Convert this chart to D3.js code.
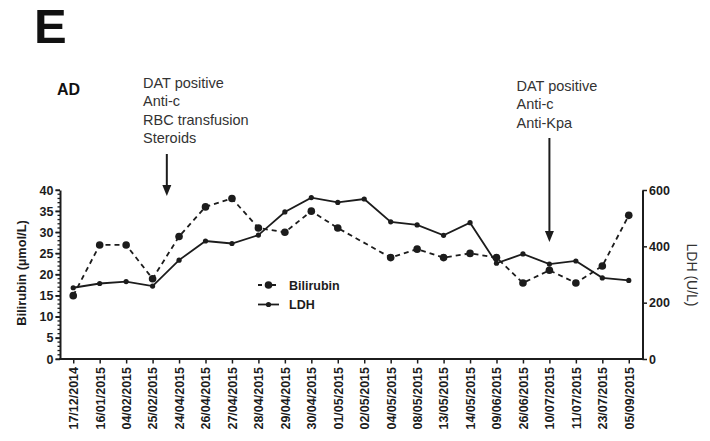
<!DOCTYPE html>
<html>
<head>
<meta charset="utf-8">
<script src="https://cdn.jsdelivr.net/npm/d3@7"></script>
<style>
  html, body { margin: 0; padding: 0; background: #fff; }
  svg { display: block; font-family: Arial, "Liberation Sans", Helvetica, sans-serif; }
</style>
</head>
<body>
<svg id="chart" width="710" height="441"></svg>
<script>
const categories = ["17/12/2014","16/01/2015","04/02/2015","25/02/2015","24/04/2015","26/04/2015","27/04/2015","28/04/2015","29/04/2015","30/04/2015","01/05/2015","02/05/2015","04/05/2015","08/05/2015","13/05/2015","14/05/2015","09/06/2015","26/06/2015","10/07/2015","11/07/2015","23/07/2015","05/09/2015"];
const bilirubin = [15,27,27,19,29,36,38,31,30,35,31,null,24,26,24,25,24,18,21,18,22,34];
const ldh = [253,268,275,259,351,419,410,440,522,573,556,568,487,476,439,484,340,373,337,348,288,279];
const leftTicks = [0,5,10,15,20,25,30,35,40];
const rightTicks = [0,200,400,600];
const annotation1 = ["DAT positive","Anti-c","RBC transfusion","Steroids"];
const annotation2 = ["DAT positive","Anti-c","Anti-Kpa"];

const ink = "#1c1c1c";
const svg = d3.select("#chart");

const x = d3.scalePoint().domain(categories).range([60, 642]).padding(0.5);
const yL = d3.scaleLinear().domain([0, 40]).range([359, 190]);
const yR = d3.scaleLinear().domain([0, 600]).range([359, 190]);

// Panel letter & subtitle
svg.append("text").attr("x", 34).attr("y", 43).attr("font-size", 49).attr("font-weight", "bold").attr("fill", "#111").text("E");
svg.append("text").attr("x", 57).attr("y", 95).attr("font-size", 16).attr("font-weight", "bold").attr("fill", "#111").text("AD");

// Left axis minor ticks
const minor = d3.range(0, 41, 1);
svg.append("g").selectAll("line").data(minor).join("line")
  .attr("x1", 60).attr("x2", d => d % 5 === 0 ? 55.5 : 57.5)
  .attr("y1", d => yL(d)).attr("y2", d => yL(d))
  .attr("stroke", ink).attr("stroke-width", 1.3);

// Left axis
const gL = svg.append("g").attr("transform", "translate(60,0)")
  .call(d3.axisLeft(yL).tickValues(leftTicks).tickSize(4.5).tickSizeOuter(0));
gL.select(".domain").attr("stroke", ink).attr("stroke-width", 2);
gL.selectAll(".tick line").attr("stroke", ink).attr("stroke-width", 1.5);
gL.selectAll(".tick text").attr("font-size", 12.5).attr("font-weight", "bold").attr("fill", ink)
  .attr("font-family", "Arial, 'Liberation Sans', sans-serif").attr("x", -6.5);

// Right axis
const gR = svg.append("g").attr("transform", "translate(642.5,0)")
  .call(d3.axisRight(yR).tickValues(rightTicks).tickSize(4.5).tickSizeOuter(0));
gR.select(".domain").attr("stroke", ink).attr("stroke-width", 2);
gR.selectAll(".tick line").attr("stroke", ink).attr("stroke-width", 1.5);
gR.selectAll(".tick text").attr("font-size", 12.5).attr("font-weight", "bold").attr("fill", ink)
  .attr("font-family", "Arial, 'Liberation Sans', sans-serif").attr("x", 6.5);

// Bottom axis
const gB = svg.append("g").attr("transform", "translate(0,359)")
  .call(d3.axisBottom(x).tickSize(4.5).tickSizeOuter(0));
gB.select(".domain").attr("stroke", ink).attr("stroke-width", 2).attr("d", "M59,0H643.5");
gB.selectAll(".tick line").attr("stroke", ink).attr("stroke-width", 1.5);
gB.selectAll(".tick text").attr("font-size", 12.5).attr("font-weight", "bold").attr("fill", ink)
  .attr("font-family", "Arial, 'Liberation Sans', sans-serif")
  .attr("text-anchor", "end").attr("transform", "translate(0,8) rotate(-90)")
  .attr("x", 0).attr("y", 0).attr("dy", "0.35em");

// Axis titles
svg.append("text").attr("transform", "translate(25.5,273) rotate(-90)")
  .attr("text-anchor", "middle").attr("font-size", 12.8).attr("font-weight", "bold").attr("fill", ink)
  .text("Bilirubin (µmol/L)");
svg.append("text").attr("transform", "translate(687,275) rotate(90)")
  .attr("text-anchor", "middle").attr("font-size", 14).attr("fill", "#333")
  .text("LDH (U/L)");

// Data lines
const bData = categories.map((c, i) => ({c, v: bilirubin[i]})).filter(d => d.v !== null);
const lData = categories.map((c, i) => ({c, v: ldh[i]}));

svg.append("path").datum(lData)
  .attr("d", d3.line().x(d => x(d.c)).y(d => yR(d.v)))
  .attr("fill", "none").attr("stroke", ink).attr("stroke-width", 1.8);
svg.append("g").selectAll("circle").data(lData).join("circle")
  .attr("cx", d => x(d.c)).attr("cy", d => yR(d.v)).attr("r", 2.6).attr("fill", ink);

svg.append("path").datum(bData)
  .attr("d", d3.line().x(d => x(d.c)).y(d => yL(d.v)))
  .attr("fill", "none").attr("stroke", ink).attr("stroke-width", 1.8).attr("stroke-dasharray", "5,4");
svg.append("g").selectAll("circle").data(bData).join("circle")
  .attr("cx", d => x(d.c)).attr("cy", d => yL(d.v)).attr("r", 3.8).attr("fill", ink);

// Legend
const lg = svg.append("g");
lg.append("line").attr("x1", 258).attr("x2", 279).attr("y1", 285).attr("y2", 285)
  .attr("stroke", ink).attr("stroke-width", 1.8).attr("stroke-dasharray", "4,3");
lg.append("circle").attr("cx", 268.5).attr("cy", 285).attr("r", 3.8).attr("fill", ink);
lg.append("text").attr("x", 289).attr("y", 289.5).attr("font-size", 12.5).attr("font-weight", "bold").attr("fill", ink).text("Bilirubin");
lg.append("line").attr("x1", 258).attr("x2", 279).attr("y1", 304.5).attr("y2", 304.5)
  .attr("stroke", ink).attr("stroke-width", 1.8);
lg.append("circle").attr("cx", 268.5).attr("cy", 304.5).attr("r", 2.6).attr("fill", ink);
lg.append("text").attr("x", 289).attr("y", 309).attr("font-size", 12.5).attr("font-weight", "bold").attr("fill", ink).text("LDH");

// Annotations
function arrow(xc, y0, y1) {
  svg.append("line").attr("x1", xc).attr("x2", xc).attr("y1", y0).attr("y2", y1 - 9)
    .attr("stroke", ink).attr("stroke-width", 2);
  svg.append("path").attr("d", `M${xc - 4.5},${y1 - 11}L${xc + 4.5},${y1 - 11}L${xc},${y1}Z`).attr("fill", ink);
}
const ax1 = (x(categories[3]) + x(categories[4])) / 2 + 1;
svg.append("g").selectAll("text").data(annotation1).join("text")
  .attr("x", 143).attr("y", (d, i) => 87.5 + i * 18.5)
  .attr("font-size", 14.5).attr("fill", "#333").text(d => d);
arrow(ax1, 154, 196);

const ax2 = x(categories[18]);
svg.append("g").selectAll("text").data(annotation2).join("text")
  .attr("x", 516.5).attr("y", (d, i) => 90.5 + i * 18.5)
  .attr("font-size", 14.5).attr("fill", "#333").text(d => d);
arrow(ax2, 138, 242);
</script>
</body>
</html>
